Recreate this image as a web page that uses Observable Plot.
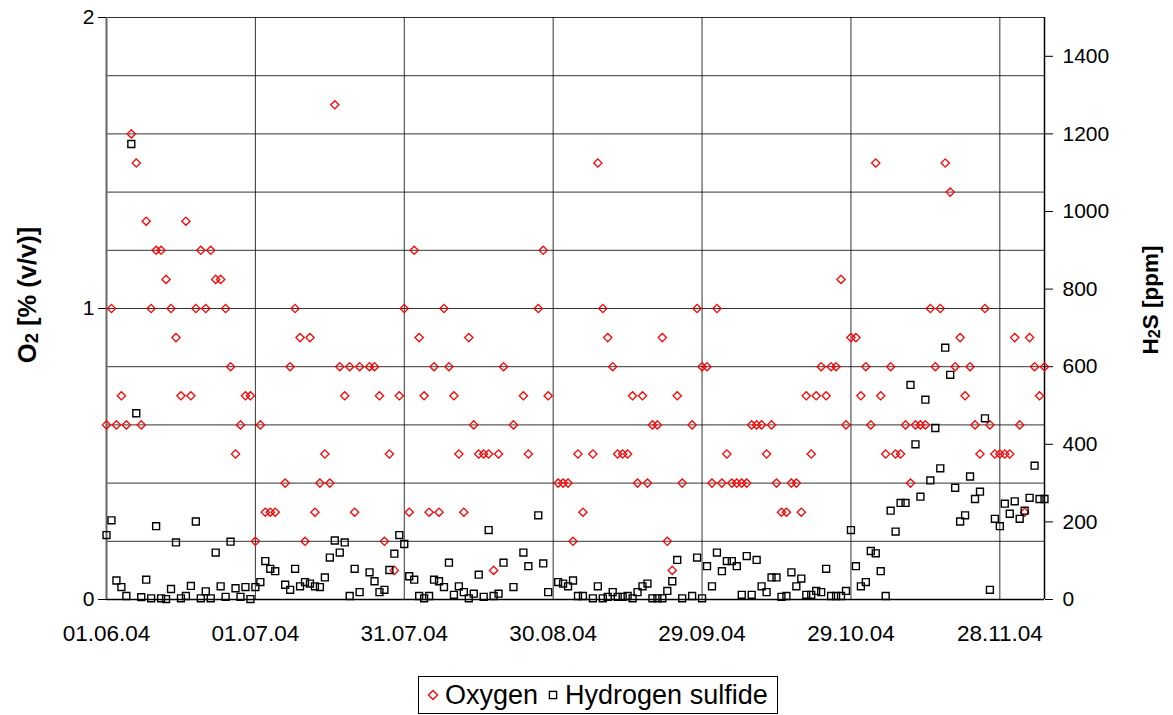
<!DOCTYPE html>
<html>
<head>
<meta charset="utf-8">
<script src="https://cdn.jsdelivr.net/npm/d3@7"></script>
<script src="https://cdn.jsdelivr.net/npm/@observablehq/plot@0.6"></script>
<style>
  body { margin: 0; background: #fff; font-family: "Liberation Sans", Arial, sans-serif; }
  #wrap { position: relative; width: 1173px; height: 715px; }
  #chart svg { display: block; }
  .ytitle { position: absolute; font-weight: bold; white-space: nowrap;
            transform: translate(-50%, -50%) rotate(-90deg); color: #000; }
  .ytitle sub { font-size: 0.72em; vertical-align: -0.14em; }
  #legend { position: absolute; left: 418px; top: 676px; width: 360px; height: 38px; box-sizing: border-box;
            border: 1px solid #000; display: flex; align-items: center; padding-left: 8px;
            font-size: 27px; background: #fff; }
  #legend .item { display: flex; align-items: center; }
  #legend .item + .item { margin-left: 9px; }
  #legend svg { margin-right: 6px; }
</style>
</head>
<body>
<div id="wrap">
  <div id="chart"></div>
  <div class="ytitle" style="left:28px; top:295px; font-size:25.5px;">O<sub>2</sub> [% (v/v)]</div>
  <div class="ytitle" style="left:1151px; top:300px; font-size:22.5px;">H<sub>2</sub>S [ppm]</div>
  <div id="legend">
    <span class="item"><svg width="12" height="12" viewBox="-6 -6 12 12"><path d="M0,-4.5L4.5,0L0,4.5L-4.5,0Z" fill="none" stroke="#f00" stroke-width="1.3"/></svg>Oxygen</span>
    <span class="item"><svg width="12" height="12" viewBox="-6 -6 12 12"><rect x="-3.6" y="-3.6" width="7.2" height="7.2" fill="none" stroke="#000" stroke-width="1.4"/></svg>Hydrogen sulfide</span>
  </div>
</div>
<script>
// Sampling days (a few days without measurements)
const dates = [
  // June
  "01.06.04","02.06.04","03.06.04","04.06.04","05.06.04","06.06.04","07.06.04","08.06.04","09.06.04","10.06.04",
  "11.06.04","12.06.04","13.06.04","14.06.04","15.06.04","16.06.04","17.06.04","18.06.04","19.06.04","20.06.04",
  "21.06.04","22.06.04","23.06.04","24.06.04","25.06.04","26.06.04","27.06.04","28.06.04","29.06.04","30.06.04",
  // July
  "01.07.04","02.07.04","03.07.04","04.07.04","05.07.04","07.07.04","08.07.04","09.07.04","10.07.04","11.07.04",
  "12.07.04","13.07.04","14.07.04","15.07.04","16.07.04","17.07.04","18.07.04","19.07.04","20.07.04","21.07.04",
  "22.07.04","24.07.04","25.07.04","26.07.04","27.07.04","28.07.04","29.07.04","30.07.04","31.07.04",
  // August
  "01.08.04","02.08.04","03.08.04","04.08.04","05.08.04","06.08.04","07.08.04","08.08.04","09.08.04","10.08.04",
  "11.08.04","12.08.04","13.08.04","14.08.04","15.08.04","16.08.04","17.08.04","18.08.04","19.08.04","20.08.04",
  "22.08.04","24.08.04","25.08.04","27.08.04","28.08.04","29.08.04","31.08.04",
  // September
  "01.09.04","02.09.04","03.09.04","04.09.04","05.09.04","07.09.04","08.09.04","09.09.04","10.09.04","11.09.04",
  "12.09.04","13.09.04","14.09.04","15.09.04","16.09.04","17.09.04","18.09.04","19.09.04","20.09.04","21.09.04",
  "22.09.04","23.09.04","24.09.04","25.09.04","27.09.04","28.09.04","29.09.04","30.09.04",
  // October
  "01.10.04","02.10.04","03.10.04","04.10.04","05.10.04","06.10.04","07.10.04","08.10.04","09.10.04","10.10.04",
  "11.10.04","12.10.04","13.10.04","14.10.04","15.10.04","16.10.04","17.10.04","18.10.04","19.10.04","20.10.04",
  "21.10.04","22.10.04","23.10.04","24.10.04","25.10.04","26.10.04","27.10.04","28.10.04","29.10.04","30.10.04","31.10.04",
  // November
  "01.11.04","02.11.04","03.11.04","04.11.04","05.11.04","06.11.04","07.11.04","08.11.04","09.11.04","10.11.04",
  "11.11.04","12.11.04","13.11.04","14.11.04","15.11.04","16.11.04","17.11.04","18.11.04","19.11.04","20.11.04",
  "21.11.04","22.11.04","23.11.04","24.11.04","25.11.04","26.11.04","27.11.04","28.11.04","29.11.04","30.11.04",
  // December
  "01.12.04","02.12.04","03.12.04","04.12.04","05.12.04","06.12.04","07.12.04"
];

// Oxygen, % (v/v)
const oxygen = [
  0.6,1.0,0.6,0.7,0.6,1.6,1.5,0.6,1.3,1.0, 1.2,1.2,1.1,1.0,0.9,0.7,1.3,0.7,1.0,1.2, 1.0,1.2,1.1,1.1,1.0,0.8,0.5,0.6,0.7,0.7,
  0.2,0.6,0.3,0.3,0.3,0.4,0.8,1.0,0.9,0.2, 0.9,0.3,0.4,0.5,0.4,1.7,0.8,0.7,0.8,0.3, 0.8,0.8,0.8,0.7,0.2,0.5,0.1,0.7,1.0,
  0.3,1.2,0.9,0.7,0.3,0.8,0.3,1.0,0.8,0.7, 0.5,0.3,0.9,0.6,0.5,0.5,0.5,0.1,0.5,0.8, 0.6,0.7,0.5,1.0,1.2,0.7,0.4,
  0.4,0.4,0.2,0.5,0.3,0.5,1.5,1.0,0.9,0.8, 0.5,0.5,0.5,0.7,0.4,0.7,0.4,0.6,0.6,0.9, 0.2,0.1,0.7,0.4,0.6,1.0,0.8,0.8,
  0.4,1.0,0.4,0.5,0.4,0.4,0.4,0.4,0.6,0.6, 0.6,0.5,0.6,0.4,0.3,0.3,0.4,0.4,0.3,0.7, 0.5,0.7,0.8,0.7,0.8,0.8,1.1,0.6,0.9,0.9,0.7,
  0.8,0.6,1.5,0.7,0.5,0.8,0.5,0.5,0.6,0.4, 0.6,0.6,0.6,1.0,0.8,1.0,1.5,1.4,0.8,0.9, 0.7,0.8,0.6,0.5,1.0,0.6,0.5,0.5,0.5,0.5,
  0.9,0.6,0.3,0.9,0.8,0.7,0.8
];

// Hydrogen sulfide, ppm
const hydrogenSulfide = [
  166,204,49,32,9,1174,480,6,51,3, 189,3,1,27,147,3,9,35,201,3, 21,3,121,34,7,149,29,7,32,1,
  32,45,99,79,73,38,25,79,34,45, 41,34,32,57,108,152,121,147,9,79, 19,70,47,19,25,76,118,166,143,
  60,51,9,3,9,51,47,32,95,12, 34,19,3,15,64,7,179,9,15,95, 32,121,86,217,93,19,45,
  41,34,49,9,9,3,34,3,7,19, 7,7,9,3,19,34,41,3,3,3, 22,47,102,3,9,108,3,86,
  34,121,73,99,99,86,12,112,12,102, 34,19,57,57,7,9,70,34,54,12, 12,22,19,79,9,9,9,22,179,86,34,
  45,125,119,73,9,229,175,249,249,553, 400,265,515,307,442,338,649,579,288,201, 217,317,259,278,467,25,208,189,247,221,
  253,208,229,262,345,259,259
];

// Axis ticks
const xTickLabels = ["01.06.04","01.07.04","31.07.04","30.08.04","29.09.04","29.10.04","28.11.04"];
const xDomainLabels = ["01.06.04","07.12.04"];
const o2Ticks = [0, 1, 2];
const o2Grid = [0.2, 0.4, 0.6, 0.8, 1.0, 1.2, 1.4, 1.6, 1.8, 2.0];
const h2sTicks = [0, 200, 400, 600, 800, 1000, 1200, 1400];
const h2sMax = 1500; // right axis top, aligned with 2 % on the left

const parse = d3.utcParse("%d.%m.%y");
const fmt = d3.utcFormat("%d.%m.%y");
const toLeft = v => v * 2 / h2sMax;   // ppm -> left-axis units
const rows = dates.map((d, i) => ({date: parse(d), o2: oxygen[i], h2s: hydrogenSulfide[i]}));
const xTicks = xTickLabels.map(parse);
const xDomain = xDomainLabels.map(parse);

const chart = Plot.plot({
  width: 1173,
  height: 672,
  marginLeft: 106,
  marginRight: 129,
  marginTop: 17,
  marginBottom: 73,
  style: {fontFamily: "'Liberation Sans', Arial, sans-serif", fontSize: "21px", color: "#000", background: "#fff", overflow: "visible"},
  x: {type: "utc", domain: xDomain},
  y: {domain: [0, 2]},
  marks: [
    Plot.gridY(o2Grid, {stroke: "#000", strokeOpacity: 0.8}),
    Plot.gridX(xTicks, {stroke: "#000", strokeOpacity: 0.8}),
    Plot.ruleX([xDomain[1]], {stroke: "#000", strokeWidth: 1.5}),
    Plot.ruleY([0], {stroke: "#000", strokeWidth: 1.5}),
    Plot.ruleX([xDomain[0]], {stroke: "#666", strokeWidth: 2}),
    Plot.axisY(o2Ticks, {anchor: "left", tickSize: 8, tickPadding: 4, tickFormat: d => String(d), label: null, fontSize: 21}),
    Plot.axisY(h2sTicks.map(toLeft), {anchor: "right", tickSize: 8, tickPadding: 10, tickFormat: d => String(Math.round(d * h2sMax / 2)), label: null, fontSize: 21}),
    Plot.axisX(xTicks, {anchor: "bottom", tickSize: 0, tickPadding: 26, tickFormat: fmt, label: null, fontSize: 22.5}),
    Plot.dot(rows, {x: "date", y: "o2", symbol: "diamond2", r: 3.7, stroke: "#ff0000", strokeWidth: 1.3}),
    Plot.dot(rows, {x: "date", y: d => toLeft(d.h2s), symbol: "square2", r: 4.4, stroke: "#000", strokeWidth: 1.4})
  ]
});
document.getElementById("chart").appendChild(chart);
</script>
</body>
</html>
